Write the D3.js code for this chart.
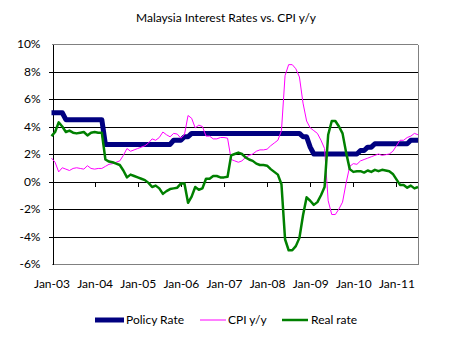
<!DOCTYPE html>
<html><head><meta charset="utf-8">
<script src="https://cdn.jsdelivr.net/npm/d3@7/dist/d3.min.js"></script>
<style>body{margin:0;background:#fff}svg{display:block;font-family:Lato,"DejaVu Sans",sans-serif}</style>
</head><body><svg id="c" width="452" height="341"></svg>
<script>
// ---- data ----
const chartTitle = "Malaysia Interest Rates vs. CPI y/y";
const firstMonth = new Date(2003, 0, 1);
const lastMonth = new Date(2011, 6, 1);
const months = d3.timeMonth.range(firstMonth, d3.timeMonth.offset(lastMonth, 1)).map(d3.timeFormat("%b-%y"));
const yTickValues = [-6, -4, -2, 0, 2, 4, 6, 8, 10];
const seriesNames = ["Policy Rate", "CPI y/y", "Real rate"];

const policyRate = [
  5, 5, 5, 5, 4.5, 4.5, 4.5, 4.5, 4.5, 4.5, 4.5, 4.5,
  4.5, 4.5, 4.5, 2.7, 2.7, 2.7, 2.7, 2.7, 2.7, 2.7, 2.7, 2.7,
  2.7, 2.7, 2.7, 2.7, 2.7, 2.7, 2.7, 2.7, 2.7, 2.7, 3.0, 3.0,
  3.0, 3.25, 3.25, 3.5, 3.5, 3.5, 3.5, 3.5, 3.5, 3.5, 3.5, 3.5,
  3.5, 3.5, 3.5, 3.5, 3.5, 3.5, 3.5, 3.5, 3.5, 3.5, 3.5, 3.5,
  3.5, 3.5, 3.5, 3.5, 3.5, 3.5, 3.5, 3.5, 3.5, 3.5, 3.25, 3.25,
  2.5, 2.0, 2.0, 2.0, 2.0, 2.0, 2.0, 2.0, 2.0, 2.0, 2.0, 2.0,
  2.0, 2.0, 2.25, 2.25, 2.5, 2.5, 2.75, 2.75, 2.75, 2.75, 2.75, 2.75,
  2.75, 2.75, 2.75, 2.75, 3.0, 3.0, 3.0
];
const cpiYoY = [
  1.7, 1.4, 0.7, 1.0, 0.9, 0.8, 0.95, 1.0, 0.95, 0.9, 1.15, 0.95,
  0.9, 0.95, 0.95, 1.1, 1.25, 1.3, 1.4, 1.5, 1.9, 2.4, 2.2, 2.3,
  2.4, 2.5, 2.6, 2.8, 3.1, 3.0, 3.2, 3.6, 3.4, 3.25, 3.5, 3.45,
  3.15, 3.4, 4.8, 4.6, 3.9, 4.1, 4.0, 3.3, 3.3, 3.1, 3.1, 3.2,
  3.2, 3.15, 1.6, 1.5, 1.4, 1.5, 1.75, 1.9, 2.0, 2.2, 2.3, 2.3,
  2.35, 2.6, 2.8, 3.0, 3.7, 7.7, 8.5, 8.5, 8.2, 7.6, 5.7, 4.4,
  3.9, 3.7, 3.5, 3.0, 2.4, -1.4, -2.4, -2.4, -2.0, -1.5, -0.1, 1.1,
  1.3, 1.25, 1.5, 1.6, 1.7, 1.8, 1.9, 2.0, 1.9, 1.95, 2.0, 2.2,
  2.6, 3.0, 3.0, 3.2, 3.3, 3.5, 3.4
];
const realRate = [
  3.3, 3.6, 4.3, 4.0, 3.6, 3.7, 3.55, 3.5, 3.55, 3.6, 3.35, 3.55,
  3.6, 3.55, 3.55, 1.6, 1.45, 1.4, 1.3, 1.2, 0.8, 0.3, 0.5, 0.4,
  0.3, 0.2, 0.1, -0.1, -0.4, -0.3, -0.5, -0.9, -0.7, -0.55, -0.5, -0.45,
  -0.15, -0.15, -1.55, -1.1, -0.4, -0.6, -0.5, 0.2, 0.2, 0.4, 0.4, 0.3,
  0.3, 0.35, 1.9, 2.0, 2.1, 2.0, 1.75, 1.6, 1.5, 1.3, 1.2, 1.2,
  1.15, 0.9, 0.7, 0.5, -0.2, -4.2, -5.0, -5.0, -4.7, -4.1, -2.45, -1.15,
  -1.4, -1.7, -1.5, -1.0, -0.4, 3.4, 4.4, 4.4, 4.0, 3.5, 2.1, 0.9,
  0.7, 0.75, 0.75, 0.65, 0.8, 0.7, 0.85, 0.75, 0.85, 0.8, 0.75, 0.55,
  0.15, -0.25, -0.25, -0.45, -0.3, -0.5, -0.4
];

// ---- layout / style ----
const L = 51.5, R = 418, T = 44, B = 264;
const styles = [
  {color: "#000080", width: 5},
  {color: "#FF00FF", width: 1},
  {color: "#008000", width: 2.5}
];
const seriesData = [policyRate, cpiYoY, realRate];

const svg = d3.select("#c");
const x = d3.scalePoint().domain(months).range([L, R]);
const y = d3.scaleLinear().domain([-6, 10]).range([B, T]);
const crisp = v => Math.round(v) + 0.5;

// title
svg.append("text").attr("x", 226).attr("y", 22).attr("text-anchor", "middle")
  .attr("font-size", 12).attr("fill", "#000").text(chartTitle);

// gridlines
svg.append("g").selectAll("line").data(yTickValues).join("line")
  .attr("x1", d => (d === 10 || d === -6) ? L : L - 2.5).attr("x2", R)
  .attr("y1", d => crisp(y(d))).attr("y2", d => crisp(y(d)))
  .attr("stroke", d => (d === 10 || d === -6) ? "#808080" : "#000")
  .attr("stroke-width", 1).attr("shape-rendering", "crispEdges");
// right border
svg.append("line").attr("x1", crisp(R)).attr("x2", crisp(R)).attr("y1", crisp(y(10))).attr("y2", crisp(y(-6)))
  .attr("stroke", "#808080").attr("shape-rendering", "crispEdges");

// y axis
const yAxis = svg.append("g").attr("transform", `translate(${crisp(L)},0)`)
  .call(d3.axisLeft(y).tickValues(yTickValues).tickFormat(d => d + "%").tickSize(0).tickPadding(12));
yAxis.select(".domain").attr("stroke", "#000").attr("shape-rendering", "crispEdges");
yAxis.selectAll("text").attr("font-size", 12).attr("fill", "#000").attr("font-family", "Lato");

// x ticks at zero line
const janMonths = months.filter(m => m.startsWith("Jan"));
const xTicks = svg.append("g").attr("transform", `translate(0,${crisp(y(0))})`)
  .call(d3.axisBottom(x).tickValues(janMonths.slice(1)).tickSize(4).tickFormat(""));
xTicks.select(".domain").remove();
xTicks.selectAll("line").attr("stroke", "#000").attr("shape-rendering", "crispEdges");

// x labels
const xLabels = svg.append("g").attr("transform", `translate(0,279)`)
  .call(d3.axisBottom(x).tickValues(janMonths).tickSize(0).tickPadding(0));
xLabels.select(".domain").remove();
xLabels.selectAll("text").attr("font-size", 12).attr("fill", "#000").attr("font-family", "Lato");

// series lines
const line = d3.line().x((d, i) => x(months[i])).y(d => y(d));
svg.append("g").selectAll("path").data(seriesData).join("path")
  .attr("d", d => line(d)).attr("fill", "none")
  .attr("stroke", (d, i) => styles[i].color).attr("stroke-width", (d, i) => styles[i].width)
  .attr("stroke-linejoin", "round");

// legend
const legendPos = [{x1: 95, x2: 124, tx: 126}, {x1: 200, x2: 226, tx: 228}, {x1: 282, x2: 308, tx: 311}];
const lg = svg.append("g").selectAll("g").data(seriesNames).join("g");
lg.append("line").attr("x1", (d, i) => legendPos[i].x1).attr("x2", (d, i) => legendPos[i].x2)
  .attr("y1", 320).attr("y2", 320)
  .attr("stroke", (d, i) => styles[i].color).attr("stroke-width", (d, i) => styles[i].width);
lg.append("text").attr("x", (d, i) => legendPos[i].tx).attr("y", 324)
  .attr("font-size", 12).attr("fill", "#000").text(d => d);
</script></body></html>
